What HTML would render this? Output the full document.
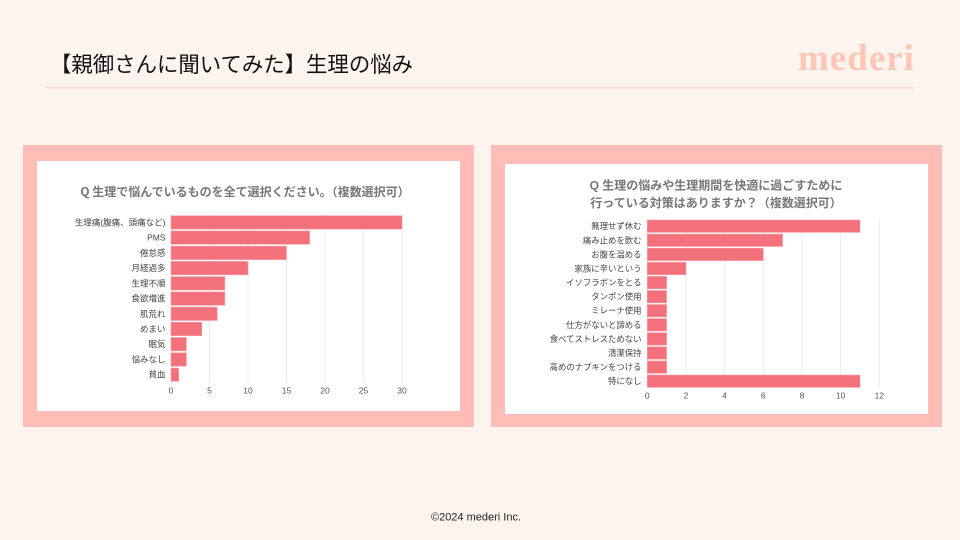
<!DOCTYPE html>
<html><head><meta charset="utf-8"><style>
html,body{margin:0;padding:0;background:#fdf4ef;}
svg{display:block;}
text{font-family:"Liberation Sans","Noto Sans CJK JP",sans-serif;}
</style></head><body>
<svg width="960" height="540" viewBox="0 0 960 540" xmlns="http://www.w3.org/2000/svg">
<rect x="0" y="0" width="960" height="540" fill="#fdf4ef"/>
<!-- header -->
<text x="50" y="72" font-size="21.4" fill="#111" style="font-family:'Noto Sans CJK JP',sans-serif">【親御さんに聞いてみた】生理の悩み</text>
<text x="798" y="70" font-size="37" font-weight="bold" fill="#fdc7b5" letter-spacing="1" style="font-family:'Liberation Serif',serif">mederi</text>
<rect x="45" y="87" width="868" height="1.6" fill="#fed8cb"/>

<!-- left panel -->
<rect x="23" y="145" width="451" height="282" fill="#ffbdb8"/>
<rect x="37" y="161" width="423" height="250" fill="#ffffff"/>
<text x="245" y="196" font-size="12" font-weight="bold" fill="#777" text-anchor="middle" style="font-family:'Noto Sans CJK JP',sans-serif">Q 生理で悩んでいるものを全て選択ください。（複数選択可）</text>
<g stroke="#ececec" stroke-width="1">
<line x1="171" y1="214" x2="171" y2="383"/>
<line x1="209.5" y1="214" x2="209.5" y2="383"/>
<line x1="248" y1="214" x2="248" y2="383"/>
<line x1="286.5" y1="214" x2="286.5" y2="383"/>
<line x1="325" y1="214" x2="325" y2="383"/>
<line x1="363.5" y1="214" x2="363.5" y2="383"/>
<line x1="402" y1="214" x2="402" y2="383"/>
</g>
<g fill="#f2717b" stroke="#f7a0a6" stroke-width="0.6">
<rect x="171" y="215.7" width="231" height="13.4"/>
<rect x="171" y="230.9" width="138.6" height="13.4"/>
<rect x="171" y="246.2" width="115.5" height="13.4"/>
<rect x="171" y="261.4" width="77" height="13.4"/>
<rect x="171" y="276.6" width="53.9" height="13.4"/>
<rect x="171" y="291.9" width="53.9" height="13.4"/>
<rect x="171" y="307.1" width="46.2" height="13.4"/>
<rect x="171" y="322.3" width="30.8" height="13.4"/>
<rect x="171" y="337.5" width="15.4" height="13.4"/>
<rect x="171" y="352.8" width="15.4" height="13.4"/>
<rect x="171" y="368" width="7.7" height="13.4"/>
</g>
<g font-size="8.5" fill="#444" text-anchor="end" style="font-family:'Noto Sans CJK JP',sans-serif">
<text x="165.5" y="225.4">生理痛(腹痛、頭痛など)</text>
<text x="165.5" y="240.6">PMS</text>
<text x="165.5" y="255.9">倦怠感</text>
<text x="165.5" y="271.1">月経過多</text>
<text x="165.5" y="286.3">生理不順</text>
<text x="165.5" y="301.6">食欲増進</text>
<text x="165.5" y="316.8">肌荒れ</text>
<text x="165.5" y="332">めまい</text>
<text x="165.5" y="347.2">眠気</text>
<text x="165.5" y="362.5">悩みなし</text>
<text x="165.5" y="377.7">貧血</text>
</g>
<g font-size="8.5" fill="#555" text-anchor="middle">
<text x="171" y="393.5">0</text>
<text x="209.5" y="393.5">5</text>
<text x="248" y="393.5">10</text>
<text x="286.5" y="393.5">15</text>
<text x="325" y="393.5">20</text>
<text x="363.5" y="393.5">25</text>
<text x="402" y="393.5">30</text>
</g>

<!-- right panel -->
<rect x="491" y="145" width="451" height="282" fill="#ffbdb8"/>
<rect x="505" y="164" width="423" height="250" fill="#ffffff"/>
<g font-size="12" font-weight="bold" fill="#777" text-anchor="middle" style="font-family:'Noto Sans CJK JP',sans-serif">
<text x="716" y="189.5">Q 生理の悩みや生理期間を快適に過ごすために</text>
<text x="716" y="207">行っている対策はありますか？（複数選択可）</text>
</g>
<g stroke="#ececec" stroke-width="1">
<line x1="647.3" y1="219" x2="647.3" y2="388"/>
<line x1="686" y1="219" x2="686" y2="388"/>
<line x1="724.6" y1="219" x2="724.6" y2="388"/>
<line x1="763.3" y1="219" x2="763.3" y2="388"/>
<line x1="802" y1="219" x2="802" y2="388"/>
<line x1="840.6" y1="219" x2="840.6" y2="388"/>
<line x1="879.3" y1="219" x2="879.3" y2="388"/>
</g>
<g fill="#f2717b" stroke="#f7a0a6" stroke-width="0.6">
<rect x="647.3" y="220" width="212.7" height="12.4"/>
<rect x="647.3" y="234.1" width="135.3" height="12.4"/>
<rect x="647.3" y="248.2" width="116" height="12.4"/>
<rect x="647.3" y="262.3" width="38.7" height="12.4"/>
<rect x="647.3" y="276.4" width="19.3" height="12.4"/>
<rect x="647.3" y="290.5" width="19.3" height="12.4"/>
<rect x="647.3" y="304.5" width="19.3" height="12.4"/>
<rect x="647.3" y="318.6" width="19.3" height="12.4"/>
<rect x="647.3" y="332.7" width="19.3" height="12.4"/>
<rect x="647.3" y="346.8" width="19.3" height="12.4"/>
<rect x="647.3" y="360.9" width="19.3" height="12.4"/>
<rect x="647.3" y="375" width="212.7" height="12.4"/>
</g>
<g font-size="8.4" fill="#444" text-anchor="end" style="font-family:'Noto Sans CJK JP',sans-serif">
<text x="641.5" y="229.2">無理せず休む</text>
<text x="641.5" y="243.3">痛み止めを飲む</text>
<text x="641.5" y="257.4">お腹を温める</text>
<text x="641.5" y="271.5">家族に辛いという</text>
<text x="641.5" y="285.6">イソフラボンをとる</text>
<text x="641.5" y="299.7">タンポン使用</text>
<text x="641.5" y="313.7">ミレーナ使用</text>
<text x="641.5" y="327.8">仕方がないと諦める</text>
<text x="641.5" y="341.9">食べてストレスためない</text>
<text x="641.5" y="356">清潔保持</text>
<text x="641.5" y="370.1">高めのナプキンをつける</text>
<text x="641.5" y="384.2">特になし</text>
</g>
<g font-size="8.5" fill="#555" text-anchor="middle">
<text x="647.3" y="398.5">0</text>
<text x="686" y="398.5">2</text>
<text x="724.6" y="398.5">4</text>
<text x="763.3" y="398.5">6</text>
<text x="802" y="398.5">8</text>
<text x="840.6" y="398.5">10</text>
<text x="879.3" y="398.5">12</text>
</g>

<!-- footer -->
<text x="476" y="520.5" font-size="11" fill="#222" text-anchor="middle">©2024 mederi Inc.</text>
</svg>
</body></html>
